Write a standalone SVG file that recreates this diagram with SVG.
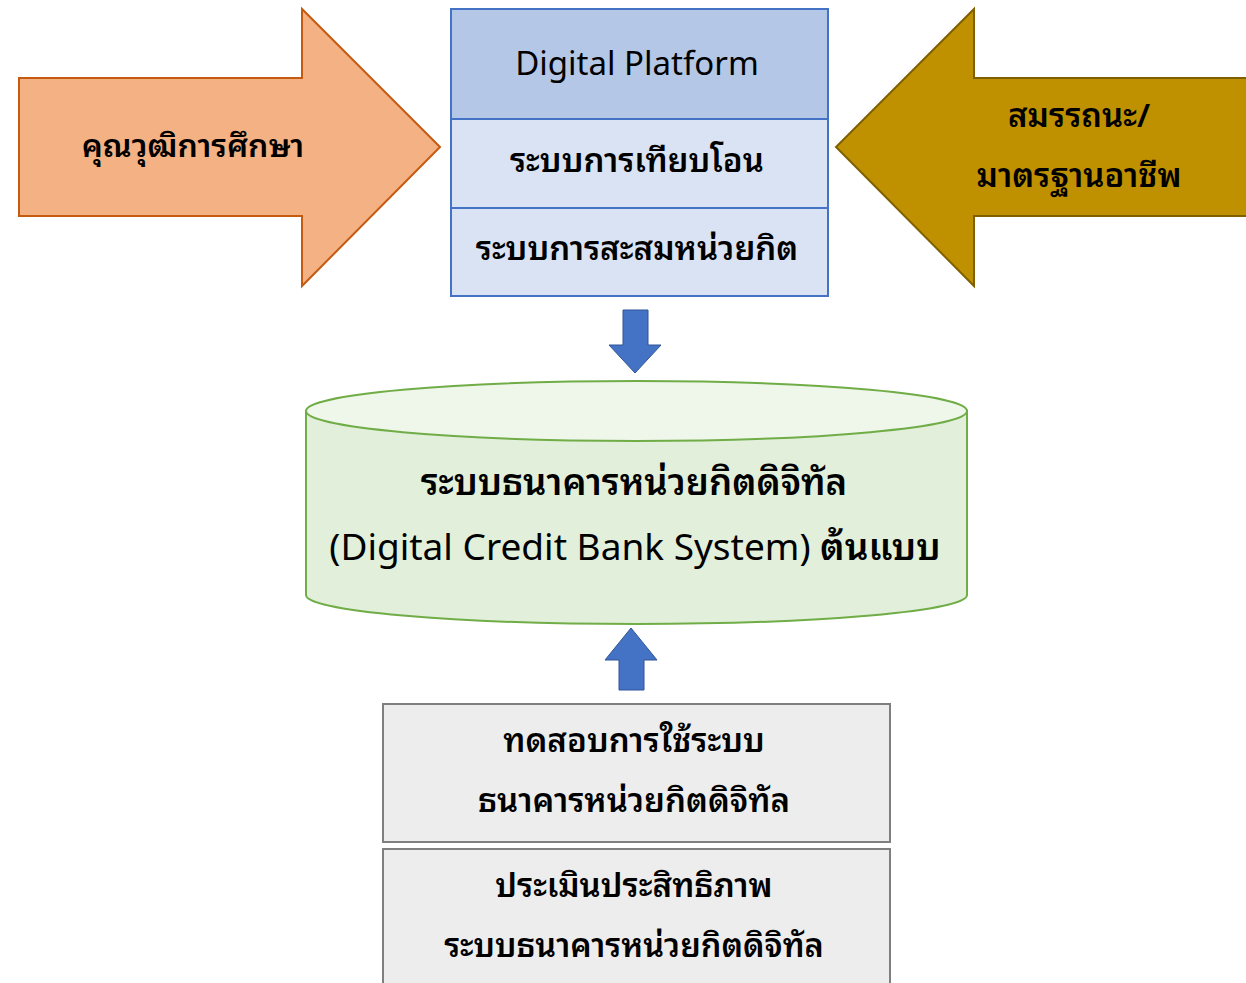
<svg xmlns="http://www.w3.org/2000/svg" width="1246" height="983" viewBox="0 0 1246 983">
<defs>
<style>
.t{font-family:"Noto Sans Thai Looped","Loma","Garuda","Waree","Tlwg Typo","Noto Sans Thai","Noto Sans","DejaVu Sans",sans-serif;font-size:33px;fill:#000;text-anchor:middle;font-weight:600}
.l{font-weight:normal}
.blue{fill:#4472C4;stroke:#2F5597;stroke-width:1}
.gray{fill:#EDEDED;stroke:#7F7F7F;stroke-width:2}
</style>
</defs>
<rect width="1246" height="983" fill="#fff"/>
<g id="left-arrow">
<polygon points="19,78 302,78 302,9 440,147 302,286 302,216 19,216" fill="#F4B183" stroke="#C55A11" stroke-width="2"/>
<text class="t" x="193" y="157" style="font-size:32px">คุณวุฒิการศึกษา</text>
</g>
<g id="right-arrow">
<polygon points="1250,78 974,78 974,9 836,147 974,286 974,216 1250,216" fill="#BF9000" stroke="#7F6000" stroke-width="2"/>
<text class="t" x="1079" y="127">สมรรถนะ/</text>
<text class="t" x="1079" y="187">มาตรฐานอาชีพ</text>
</g>
<g id="platform">
<rect x="451" y="9" width="377" height="110" fill="#B4C7E7" stroke="#4472C4" stroke-width="2"/>
<rect x="451" y="119" width="377" height="89" fill="#DAE3F3" stroke="#4472C4" stroke-width="2"/>
<rect x="451" y="208" width="377" height="88" fill="#DAE3F3" stroke="#4472C4" stroke-width="2"/>
<text class="t l" x="637" y="75">Digital Platform</text>
<text class="t" x="637" y="172">ระบบการเทียบโอน</text>
<text class="t" x="637" y="260">ระบบการสะสมหน่วยกิต</text>
</g>
<g id="connectors">
<polygon class="blue" points="623,310 648,310 648,345 661,345 635,373 609,345 623,345"/>
<polygon class="blue" points="619,690 644,690 644,660 657,660 631,628 605,660 619,660"/>
</g>
<g id="database">
<path d="M306,411 L306,595 A330.5,29 0 0 0 967,595 L967,411 Z" fill="#E2EFDA" stroke="#70AD47" stroke-width="2"/>
<ellipse cx="636.5" cy="411" rx="330.5" ry="30" fill="#EFF6EA" stroke="#70AD47" stroke-width="2"/>
<text class="t" x="634" y="495" style="font-size:36.5px">ระบบธนาคารหน่วยกิตดิจิทัล</text>
<text class="t" x="635" y="560" style="font-size:37px"><tspan style="font-weight:normal">(Digital Credit Bank System)</tspan> ต้นแบบ</text>
</g>
<g id="test-box">
<rect class="gray" x="383" y="704" width="507" height="138"/>
<text class="t" x="634" y="752">ทดสอบการใช้ระบบ</text>
<text class="t" x="634" y="812">ธนาคารหน่วยกิตดิจิทัล</text>
</g>
<g id="eval-box">
<rect class="gray" x="383" y="849" width="507" height="140"/>
<text class="t" x="634" y="897">ประเมินประสิทธิภาพ</text>
<text class="t" x="634" y="957" style="font-size:32.5px">ระบบธนาคารหน่วยกิตดิจิทัล</text>
</g>
</svg>
